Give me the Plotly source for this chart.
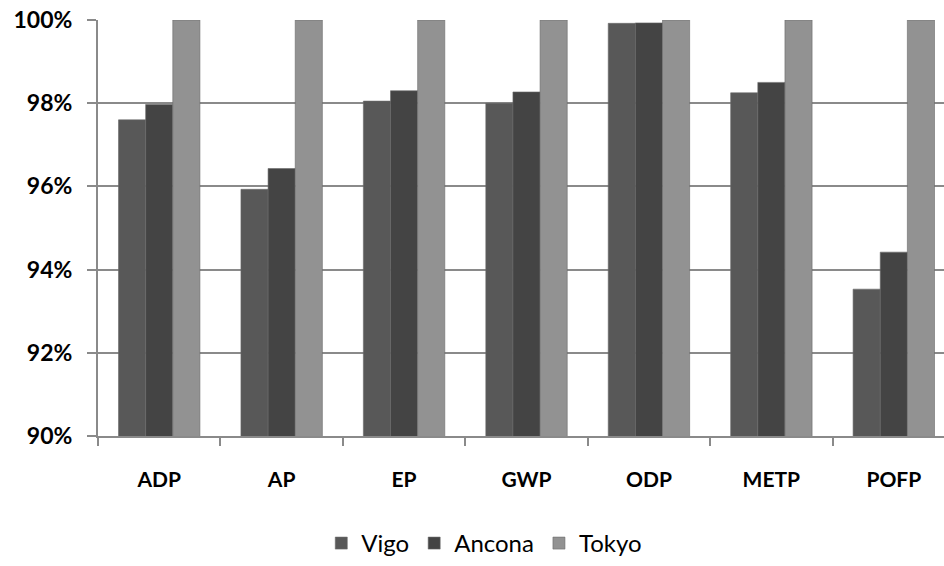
import plotly.graph_objects as go

categories = ["ADP", "AP", "EP", "GWP", "ODP", "METP", "POFP"]
vigo = [97.6, 95.93, 98.05, 98.0, 99.92, 98.25, 93.53]
ancona = [97.97, 96.43, 98.3, 98.27, 99.93, 98.5, 94.42]
tokyo = [100, 100, 100, 100, 100, 100, 100]
y_ticks = [90, 92, 94, 96, 98, 100]
y_tick_labels = ["90%", "92%", "94%", "96%", "98%", "100%"]

series = [("Vigo", vigo, "#585858"), ("Ancona", ancona, "#444444"), ("Tokyo", tokyo, "#929292")]

fig = go.Figure()
for name, vals, col in series:
    fig.add_trace(go.Bar(
        x=categories, y=vals, name=name,
        marker=dict(color=col, line=dict(color="#6a6a6a", width=0.6)),
    ))

fig.update_layout(
    width=944, height=566,
    margin=dict(l=98, r=0, t=20, b=130, autoexpand=False),
    paper_bgcolor="white", plot_bgcolor="white",
    barmode="group", bargap=0.335, bargroupgap=0,
    font=dict(family="Lato, Roboto, sans-serif", color="#000"),
    legend=dict(orientation="h", x=0.513, xanchor="center", xref="container",
                y=12, yanchor="middle", yref="container",
                font=dict(size=24, family="Lato, Roboto, sans-serif"),
                itemwidth=30, traceorder="normal"),
    showlegend=True,
)
fig.update_yaxes(
    range=[90, 100], tickvals=y_ticks, ticktext=y_tick_labels,
    showgrid=True, gridcolor="#8a8a8a", gridwidth=2,
    showline=True, linecolor="#8a8a8a", linewidth=2,
    ticks="outside", ticklen=9, tickcolor="#8a8a8a", tickwidth=2,
    tickfont=dict(size=23, family="Lato, Roboto, sans-serif", weight="bold"),
    ticklabelstandoff=10, zeroline=False,
)
fig.update_xaxes(
    range=[-0.5, 6.41], tickson="boundaries",
    showline=True, linecolor="#8a8a8a", linewidth=2,
    ticks="outside", ticklen=8, tickcolor="#8a8a8a", tickwidth=2,
    showgrid=False,
    tickfont=dict(size=21, family="Lato, Roboto, sans-serif", weight="bold"),
    ticklabelstandoff=24,
)

fig.write_html("out.html")
